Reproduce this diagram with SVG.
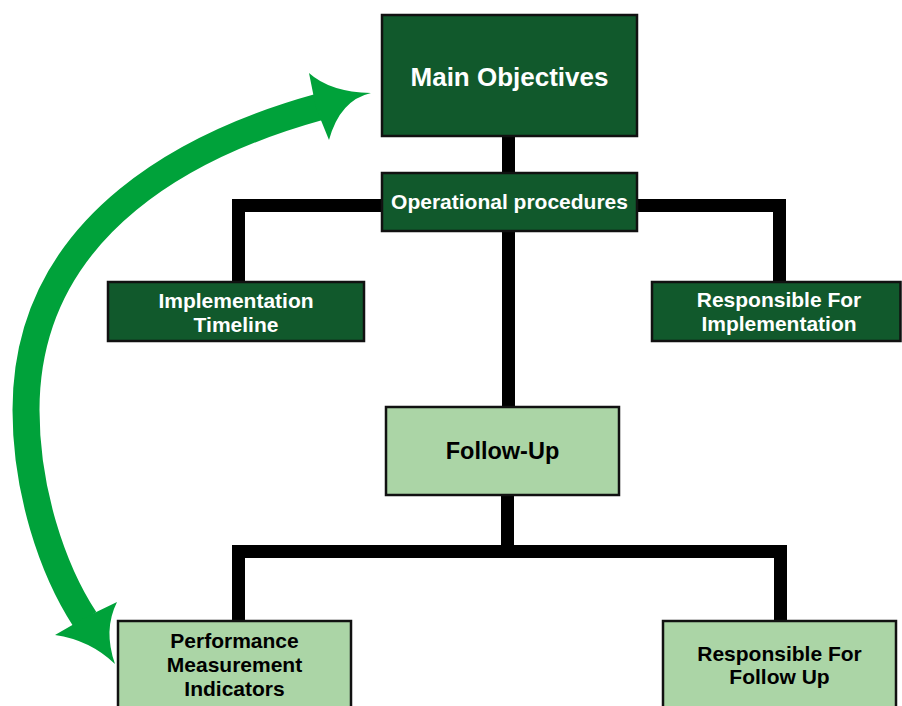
<svg xmlns="http://www.w3.org/2000/svg" width="902" height="706" viewBox="0 0 902 706">
<style>
.dark{fill:#11592c;stroke:#111;stroke-width:2.5}
.light{fill:#abd5a6;stroke:#111;stroke-width:2.5}
.tw{fill:#fff;font-family:"Liberation Sans",Arial,sans-serif;font-weight:bold;text-anchor:middle}
.tb{fill:#000;font-family:"Liberation Sans",Arial,sans-serif;font-weight:bold;text-anchor:middle}
.conn{fill:none;stroke:#000;stroke-width:13;stroke-linejoin:miter}
.arrow{fill:#00a23a}
</style>
<rect width="902" height="706" fill="#fff"/>
<g id="connectors">
<path class="conn" d="M508.5 136 V175"/>
<path class="conn" d="M384 205.5 H238.5 V283"/>
<path class="conn" d="M636 205.5 H779.5 V283"/>
<path class="conn" d="M508.5 230 V408"/>
<path class="conn" d="M507.5 494 V551.5"/>
<path class="conn" d="M238.5 622 V551.5 H780.5 V622"/>
<g id="cycle-arrow">
<path d="M319 107 C200 140 26 220 26 410 C26 490 52 569 85 619.5" fill="none" stroke="#00a23a" stroke-width="27"/>
<path class="arrow" d="M309 73 Q330 92 371 93 Q340 100 329 140 L316 108 Z"/>
<path class="arrow" d="M55 635 Q90 640 115 664 Q103 630 117 602 L88 616 Z"/>
</g>
</g>
<g id="main-objectives">
<rect class="dark" x="382" y="15" width="255" height="121"/>
<text class="tw" x="509.5" y="86" font-size="26">Main Objectives</text>
</g>
<g id="operational-procedures">
<rect class="dark" x="382" y="173" width="255" height="58"/>
<text class="tw" x="509.5" y="209" font-size="21">Operational procedures</text>
</g>
<g id="implementation-timeline">
<rect class="dark" x="108" y="282" width="256" height="59"/>
<text class="tw" x="236" y="308" font-size="21">Implementation</text>
<text class="tw" x="236" y="332" font-size="21">Timeline</text>
</g>
<g id="responsible-implementation">
<rect class="dark" x="652" y="282" width="248.5" height="59"/>
<text class="tw" x="779" y="307" font-size="21">Responsible For</text>
<text class="tw" x="779" y="331" font-size="21">Implementation</text>
</g>
<g id="follow-up">
<rect class="light" x="386" y="407" width="233" height="88"/>
<text class="tb" x="502.5" y="459" font-size="23.5">Follow-Up</text>
</g>
<g id="performance-indicators">
<rect class="light" x="118" y="621" width="233" height="100"/>
<text class="tb" x="234.5" y="648" font-size="21">Performance</text>
<text class="tb" x="234.5" y="672" font-size="21">Measurement</text>
<text class="tb" x="234.5" y="696" font-size="21">Indicators</text>
</g>
<g id="responsible-follow-up">
<rect class="light" x="663" y="621" width="233" height="100"/>
<text class="tb" x="779.5" y="661" font-size="21">Responsible For</text>
<text class="tb" x="779.5" y="684" font-size="21">Follow Up</text>
</g>
</svg>
